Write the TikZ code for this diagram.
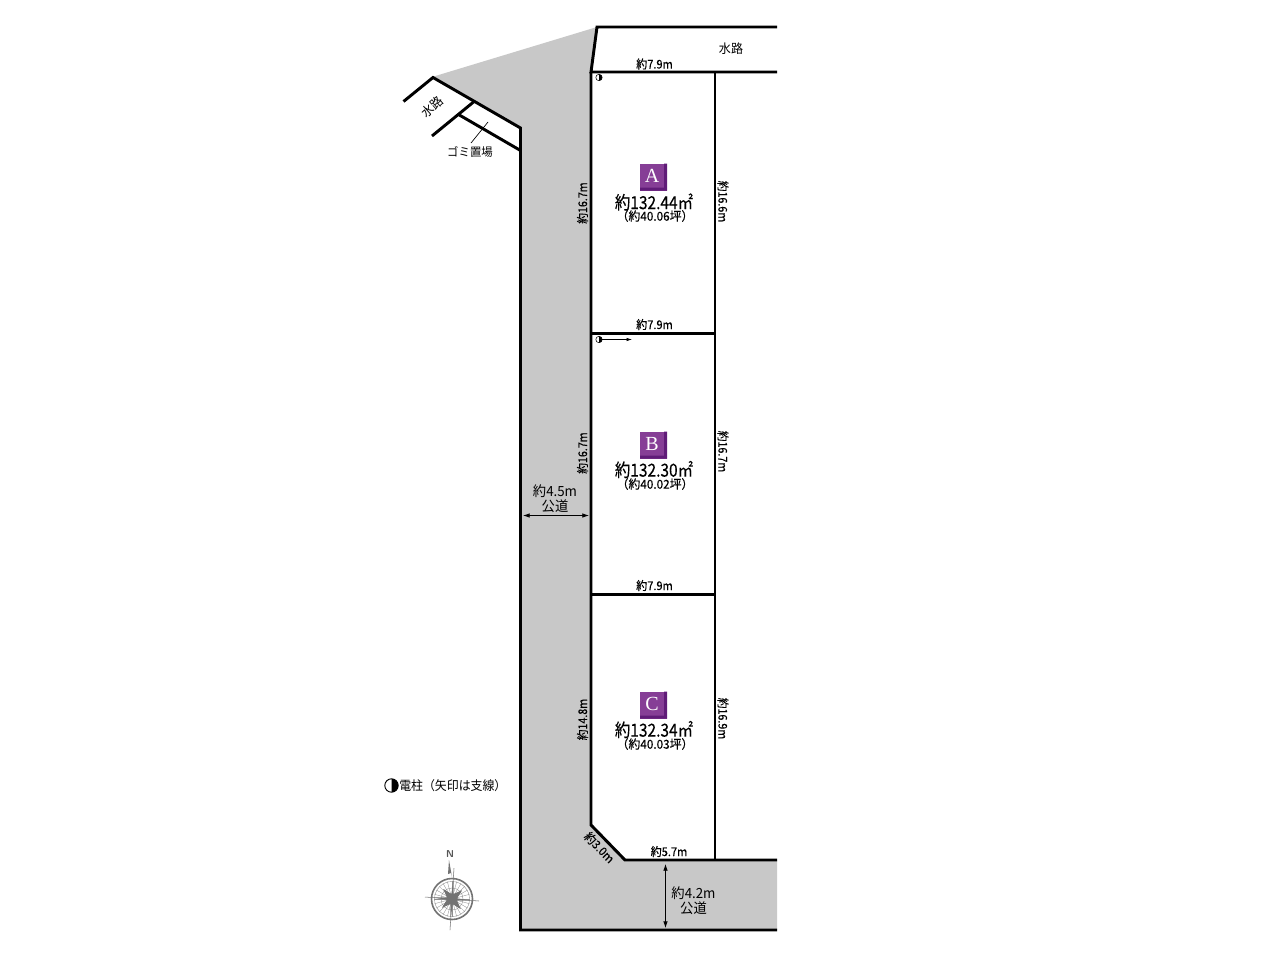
\documentclass[tikz,border=0pt]{standalone}
\usepackage{fontspec}
\setmainfont{Noto Sans CJK JP}
\newfontfamily\medfont[FakeBold=0.25]{Noto Sans CJK JP}
\newfontfamily\serifpart{Liberation Serif}
\newcommand{\fs}[1]{\fontsize{#1}{#1}\selectfont}
\usetikzlibrary{arrows.meta,calc}
\tikzset{
  x=0.75pt,y=-0.75pt,
  wall/.style={line width=2.2pt,line join=miter,line cap=butt,black},
  thinline/.style={line width=0.5pt,black},
  dim/.style={inner sep=0pt,font=\medfont\fs{9},xscale=.92},
  dimv/.style={inner sep=0pt,font=\medfont\fs{9},rotate=90,xscale=.89},
  dimr/.style={inner sep=0pt,font=\medfont\fs{9},rotate=-90,xscale=.89},
  dimd/.style={inner sep=0pt,font=\medfont\fs{9},rotate=-46,xscale=.93},
  area/.style={inner sep=0pt,font=\medfont\fs{13.5},xscale=.86},
  tsubo/.style={inner sep=0pt,font=\medfont\fs{9.2},xscale=.96},
  roadlabel/.style={inner sep=0pt,font=\fs{10.5},xscale=.95},
  dimarrow/.style={line width=0.6pt,{Latex[length=5pt,width=3.4pt]}-{Latex[length=5pt,width=3.4pt]}},
  badge/.style={minimum size=0pt,inner sep=0pt,text=white,font=\serifpart\fs{15}},
}
\definecolor{road}{RGB}{200,200,200}
\definecolor{purple1}{RGB}{134,62,150}
\definecolor{purple2}{RGB}{96,28,120}
\definecolor{compass}{RGB}{115,115,115}
\newcommand{\plotbadge}[3]{%
  \fill[purple1] (#1-13.5,#2-13.5) rectangle (#1+13.5,#2+13.5);
  \fill[purple2] (#1+10.5,#2-13.5) -- (#1+13.5,#2-13.5) -- (#1+13.5,#2+13.5) -- (#1-13.5,#2+13.5) -- (#1-13.5,#2+10.5) -- (#1+10.5,#2+10.5) -- cycle;
  \node[badge] (badge#3) at (#1-1.5,#2-1) {#3};
}
\newcommand{\poleicon}[4]{%
  \draw[line width=#4] (#1,#2) circle[radius=#3];
  \fill (#1,#2-#3) arc[start angle=-90,end angle=90,radius=#3] -- cycle;
}
\begin{document}
\begin{tikzpicture}
\useasboundingbox (0,0) rectangle (1280,961);
\fill[white] (0,0) rectangle (1280,961);
% roads
\fill[road] (432,77) -- (597,27) -- (591,72) -- (591,825) -- (625,860) -- (777,860) -- (777,930) -- (520,930) -- (520,128) -- cycle;
% outlines
\coordinate (wt1) at (777,27);
\coordinate (wt2) at (597,27);
\coordinate (wt3) at (591,72);
\coordinate (wt4) at (777,72);
\draw[wall] (wt1) -- (wt2) -- (wt3) -- (wt4);
\coordinate (c1) at (591,825);
\coordinate (c2) at (625,860);
\coordinate (c3) at (777,860);
\draw[wall] (wt3) -- (c1) -- (c2) -- (c3);
\draw[wall] (715,72) -- (715,860);
\draw[wall] (591,333.5) -- (715,333.5);
\draw[wall] (591,594.5) -- (715,594.5);
\draw[wall] (403.5,101.5) -- (433,77.5) -- (520.5,128) -- (520.5,930) -- (777,930);
\draw[wall] (432,136) -- (473.5,102);
\draw[wall] (458.5,114.5) -- (520.5,150.5);
\draw[thinline] (488,122) -- (471,143);
% labels
\node[dim] (l1) at (654.5,64) {約7.9m};
\node[dim] (l2) at (654.5,324.5) {約7.9m};
\node[dim] (l3) at (654.5,585.5) {約7.9m};
\node[dim] (l4) at (669,851.5) {約5.7m};
\node[inner sep=0pt,font=\fs{9.5},xscale=.95] (w1) at (731,48.5) {水路};
\node[inner sep=0pt,font=\fs{9.5},rotate=42,xscale=.95] (w2) at (432,106.5) {水路};
\node[inner sep=0pt,font=\fs{8.8},xscale=.97] (g) at (470,151.5) {ゴミ置場};
\node[dimv] (v1) at (582.5,203) {約16.7m};
\node[dimv] (v2) at (582.5,453) {約16.7m};
\node[dimv] (v3) at (582.5,719.5) {約14.8m};
\node[dimr] (v4) at (723,201.5) {約16.6m};
\node[dimr] (v5) at (723,451.5) {約16.7m};
\node[dimr] (v6) at (723,718.5) {約16.9m};
\node[dimd] (v7) at (599.5,847.5) {約3.0m};
% plots
\plotbadge{653.5}{177}{A}
\node[area] (a1) at (654,202) {約132.44㎡};
\node[tsubo] (a2) at (655,216) {（約40.06坪）};
\plotbadge{653.5}{445}{B}
\node[area] (b1) at (654,469.5) {約132.30㎡};
\node[tsubo] (b2) at (655,484) {（約40.02坪）};
\plotbadge{653.5}{705}{C}
\node[area] (c1t) at (654,729.5) {約132.34㎡};
\node[tsubo] (c2t) at (655,744) {（約40.03坪）};
% road dims
\node[roadlabel] (r1) at (555,491) {約4.5m};
\node[roadlabel] (r2) at (555,506) {公道};
\coordinate (ra) at (523,515.5);
\coordinate (rb) at (589,515.5);
\draw[dimarrow] (ra) -- (rb);
\node[roadlabel] (r3) at (693.5,893) {約4.2m};
\node[roadlabel] (r4) at (693.5,908.5) {公道};
\coordinate (rc) at (665.5,864);
\coordinate (rd) at (665.5,928);
\draw[dimarrow] (rc) -- (rd);
% poles
\poleicon{599}{77.5}{3.2}{0.4pt}
\poleicon{599}{339.5}{3.2}{0.4pt}
\coordinate (pa) at (602,339.5);
\coordinate (pb) at (632,339.5);
\draw[line width=0.4pt,-{Latex[length=4pt,width=2.4pt]}] (pa) -- (pb);
% legend
\poleicon{391.5}{785.5}{6.7}{0.7pt}
\node[inner sep=0pt,anchor=west,font=\fs{9.6},xscale=.93] (leg) at (399,785.5) {電柱（矢印は支線）};
% compass
\begin{scope}[shift={(452,899)}]
\node[inner sep=0pt,font=\sffamily\bfseries\fs{7.5},text=compass!75!black] (n) at (-2,-44.5) {N};
\fill[compass] (-3,-39) -- (0,-22) -- (-1,-26) -- (-4,-25) -- cycle;
\draw[compass,line width=1.2pt] (0,0) circle[radius=20.5];
\draw[compass!80,line width=0.3pt] (0,0) circle[radius=17.5];
\draw[compass!80,line width=0.3pt] (0,0) circle[radius=11];
\draw[compass,line width=0.4pt] (-27,-2) -- (27,2);
\draw[compass,line width=0.4pt] (2,-31) -- (-2,31);
\foreach \a in {0,15,...,345}{\draw[compass!80,line width=0.25pt] (0,0) -- (\a:18);}
\foreach \a in {4,94,184,274}{
  \fill[compass] (\a:18) -- (\a+12:5) -- (\a+45:13) -- (\a+78:5) -- (\a+90:18) -- (\a+102:5) -- (\a+135:13) -- (\a+168:5) -- cycle;
}
\fill[compass] (0,0) circle[radius=5.5];
\end{scope}
\end{tikzpicture}
\end{document}
